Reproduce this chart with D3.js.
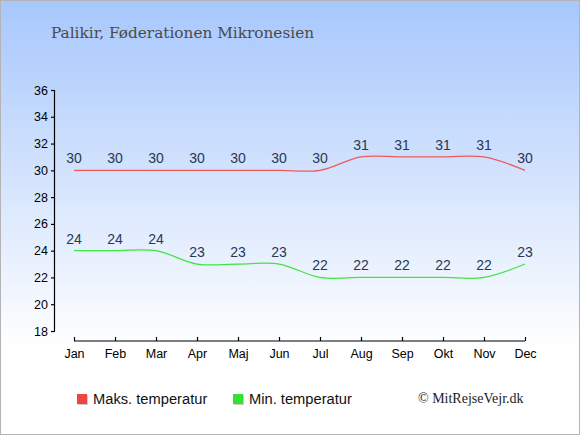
<!DOCTYPE html>
<html>
<head>
<meta charset="utf-8">
<script src="https://cdn.jsdelivr.net/npm/d3@7"></script>
<style>
  body { margin: 0; padding: 0; }
  svg { display: block; }
</style>
</head>
<body>
<svg width="580" height="435"></svg>
<script>
const months = ["Jan", "Feb", "Mar", "Apr", "Maj", "Jun", "Jul", "Aug", "Sep", "Okt", "Nov", "Dec"];
const maxTemp = [30, 30, 30, 30, 30, 30, 30, 31, 31, 31, 31, 30];
const minTemp = [24, 24, 24, 23, 23, 23, 22, 22, 22, 22, 22, 23];
const yTicks = [18, 20, 22, 24, 26, 28, 30, 32, 34, 36];

const svg = d3.select("svg");
const defs = svg.append("defs");
const grad = defs.append("linearGradient")
  .attr("id", "bg")
  .attr("x1", 0).attr("y1", 0).attr("x2", 0).attr("y2", 1);
grad.append("stop").attr("offset", "0%").attr("stop-color", "#a7c7fc");
grad.append("stop").attr("offset", "80%").attr("stop-color", "#ffffff");

svg.append("rect")
  .attr("x", 0.5).attr("y", 0.5)
  .attr("width", 579).attr("height", 434)
  .attr("fill", "url(#bg)")
  .attr("stroke", "#b4b4b4");

svg.append("text")
  .attr("x", 51).attr("y", 38)
  .attr("font-family", "'DejaVu Serif', serif")
  .attr("font-size", 15.3)
  .attr("fill", "#4a4a4a")
  .text("Palikir, Føderationen Mikronesien");

const x = d3.scalePoint().domain(months).range([74, 525]);
const y = d3.scaleLinear().domain([18, 36]).range([331, 90]);

const yAxis = svg.append("g")
  .attr("transform", "translate(55,0)")
  .call(d3.axisLeft(y).tickValues(yTicks).tickSize(4).tickSizeOuter(0).tickPadding(3));
yAxis.select(".domain").attr("d", `M-0.5,${y(36)}V${y(18)}`);

const xAxis = svg.append("g")
  .attr("transform", "translate(0,341)")
  .call(d3.axisBottom(x).tickSize(-4).tickSizeOuter(0).tickPadding(6));
xAxis.select(".domain").attr("d", `M${x("Jan")},0H${x("Dec")}`);

[yAxis, xAxis].forEach(g => {
  g.selectAll("path, line").attr("stroke", "#000").attr("stroke-width", 1.2);
  g.selectAll("text")
    .attr("font-family", "'Liberation Sans', Arial, sans-serif")
    .attr("font-size", 12.5)
    .attr("fill", "#000");
});
xAxis.selectAll("text").attr("dy", "0.9em");

const line = d3.line()
  .x((d, i) => x(months[i]))
  .y(d => y(d))
  .curve(d3.curveCatmullRom.alpha(0.5));

function drawSeries(values, color) {
  svg.append("path")
    .datum(values)
    .attr("fill", "none")
    .attr("stroke", color)
    .attr("stroke-width", 1.2)
    .attr("d", line);

  svg.append("g")
    .selectAll("text")
    .data(values)
    .join("text")
    .attr("x", (d, i) => x(months[i]))
    .attr("y", d => y(d) - 7)
    .attr("text-anchor", "middle")
    .attr("font-family", "'Liberation Sans', Arial, sans-serif")
    .attr("font-size", 14)
    .attr("fill", "#2a3855")
    .text(d => d);
}

drawSeries(maxTemp, "#f05a5a");
drawSeries(minTemp, "#3ee63e");

const legend = [
  { label: "Maks. temperatur", color: "#ee4444", x: 77 },
  { label: "Min. temperatur", color: "#33e033", x: 233 }
];
legend.forEach(l => {
  svg.append("rect")
    .attr("x", l.x + 1).attr("y", 395)
    .attr("width", 10).attr("height", 10)
    .attr("fill", "#cccccc");
  svg.append("rect")
    .attr("x", l.x).attr("y", 394)
    .attr("width", 10).attr("height", 10)
    .attr("fill", l.color);
  svg.append("text")
    .attr("x", l.x + 16).attr("y", 404)
    .attr("font-family", "'Liberation Sans', Arial, sans-serif")
    .attr("font-size", 14.7)
    .attr("fill", "#111")
    .text(l.label);
});

svg.append("text")
  .attr("x", 418).attr("y", 403)
  .attr("font-family", "'Liberation Serif', 'Times New Roman', serif")
  .attr("font-size", 14)
  .attr("fill", "#222")
  .text("© MitRejseVejr.dk");
</script>
</body>
</html>
